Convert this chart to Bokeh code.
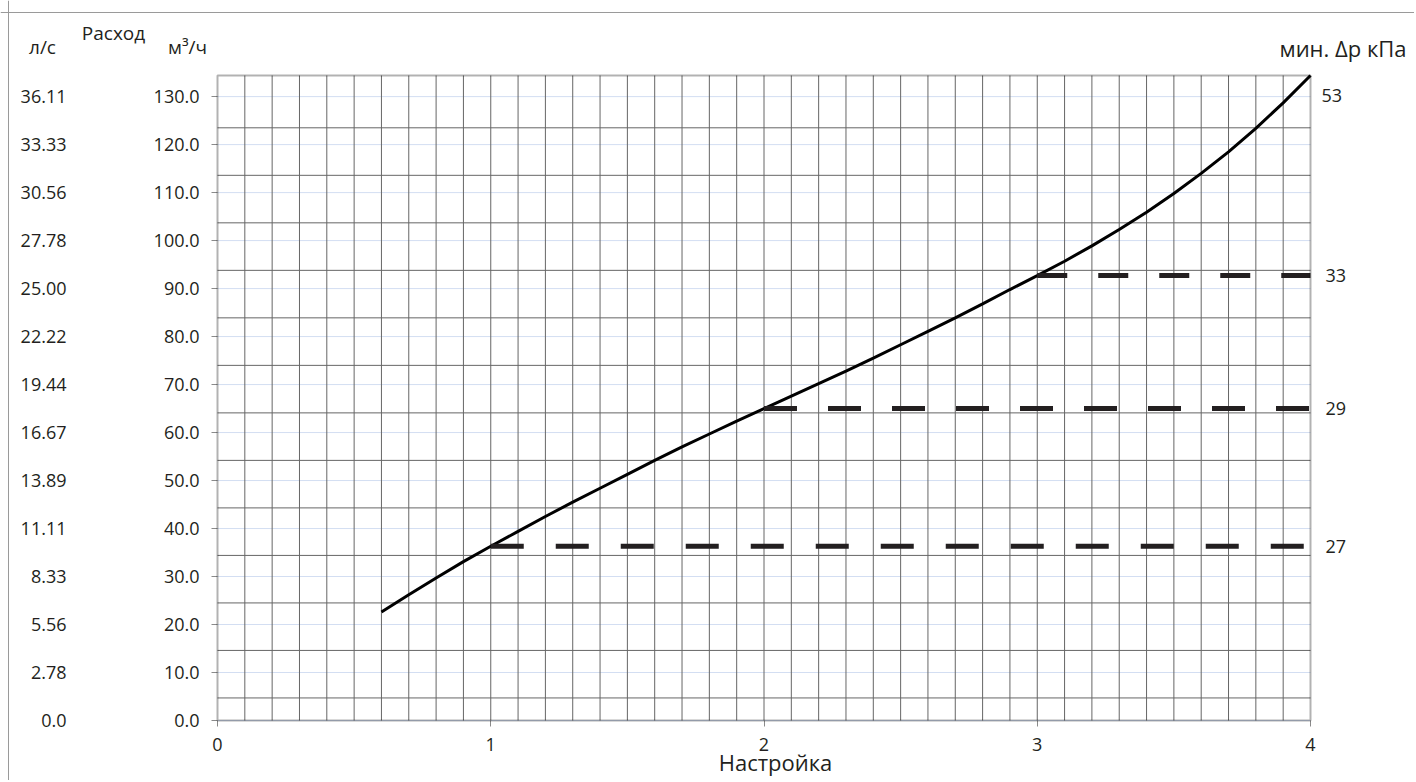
from bokeh.plotting import figure
from bokeh.models import Range1d, LinearAxis, FixedTicker, Label, Span, BoxAnnotation, NumeralTickFormatter
from bokeh.embed import file_html
from bokeh.resources import INLINE

# ---- data ----
setting = [0.6, 0.7, 0.8, 0.9, 1.0, 1.1, 1.2, 1.3, 1.4, 1.5, 1.6, 1.7, 1.8, 1.9, 2.0,
           2.1, 2.2, 2.3, 2.4, 2.5, 2.6, 2.7, 2.8, 2.9, 3.0, 3.1, 3.2, 3.3, 3.4, 3.5,
           3.6, 3.7, 3.8, 3.9, 4.0]
flow_m3h = [22.6, 26.2, 29.7, 33.1, 36.3, 39.4, 42.5, 45.5, 48.4, 51.3, 54.2, 57.0, 59.7, 62.4, 65.0,
            67.6, 70.2, 72.8, 75.5, 78.3, 81.1, 83.9, 86.8, 89.8, 92.7, 95.7, 98.9, 102.3, 105.9, 109.8,
            114.0, 118.5, 123.4, 128.7, 134.4]

dp_start = [1.0, 2.0, 3.0]
dp_level = [36.3, 65.0, 92.7]
dp_text = ["27", "29", "33"]
dp_dash = ["33 32", "33 31", "30 31"]
dp_end_text = "53"

x_ticks = [0, 1, 2, 3, 4]
x_grid = [0.1, 0.2, 0.3, 0.4, 0.5, 0.6, 0.7, 0.8, 0.9, 1.0, 1.1, 1.2, 1.3, 1.4, 1.5, 1.6, 1.7, 1.8, 1.9,
          2.0, 2.1, 2.2, 2.3, 2.4, 2.5, 2.6, 2.7, 2.8, 2.9, 3.0, 3.1, 3.2, 3.3, 3.4, 3.5, 3.6, 3.7, 3.8, 3.9]
y_ticks = [0, 10, 20, 30, 40, 50, 60, 70, 80, 90, 100, 110, 120, 130]
ls_labels = ["0.0", "2.78", "5.56", "8.33", "11.11", "13.89", "16.67", "19.44", "22.22", "25.00",
             "27.78", "30.56", "33.33", "36.11"]
h_grid = [4.7, 14.6, 24.5, 34.4, 44.3, 54.2, 64.1, 74.0, 83.9, 93.8, 103.7, 113.6, 123.5]

X_MAX = 4.0
Y_MAX = 134.4

# ---- layout (pixels) ----
W, H = 1414, 780
FR_L, FR_R, FR_T, FR_B = 217, 1310, 75, 720
XPU = (FR_R - FR_L) / X_MAX
YPU = (FR_B - FR_T) / Y_MAX


def px2x(px):
    return (px - FR_L) / XPU


def px2y(py):
    return (FR_B - py) / YPU


FONT = "Open Sans"
TXT = "#231f20"
FS = "18px"

p = figure(width=W, height=H,
           x_range=Range1d(px2x(0), px2x(W)), y_range=Range1d(px2y(H), px2y(0)),
           output_backend="svg", toolbar_location=None, min_border=0,
           min_border_left=0, min_border_right=0, min_border_top=0, min_border_bottom=0,
           background_fill_color="white", border_fill_color="white")
p.outline_line_color = None
p.xgrid.visible = False
p.ygrid.visible = False

# page border
p.add_layout(Span(location=px2x(8), dimension="height", line_color="#9a9a9a", line_width=1))
p.add_layout(Span(location=px2y(12), dimension="width", line_color="#9a9a9a", line_width=1))

# grid lines (limited to the plot box)
p.segment(x0=[0] * len(y_ticks), x1=[X_MAX] * len(y_ticks), y0=y_ticks, y1=y_ticks,
          line_color="#d3def2", line_width=1)
p.segment(x0=[0] * len(h_grid), x1=[X_MAX] * len(h_grid), y0=h_grid, y1=h_grid,
          line_color="#666666", line_width=1)
p.segment(x0=x_grid, x1=x_grid, y0=[0] * len(x_grid), y1=[Y_MAX] * len(x_grid),
          line_color="#666666", line_width=1)

# plot box
p.add_layout(BoxAnnotation(left=0, right=X_MAX, bottom=0, top=Y_MAX, fill_color=None,
                           line_color="black", line_width=2, level="annotation"))

# x axis
xa = p.xaxis[0]
xa.fixed_location = 0
xa.ticker = FixedTicker(ticks=x_ticks, minor_ticks=[])
xa.axis_line_color = None
xa.major_tick_out = 6
xa.major_tick_in = 0
xa.major_tick_line_color = "#8a8a8a"
xa.major_label_standoff = 11
xa.major_label_text_font = FONT
xa.major_label_text_font_size = FS
xa.major_label_text_color = TXT

# inner y axis (m3/h)
ya = p.yaxis[0]
ya.fixed_location = 0
ya.ticker = FixedTicker(ticks=y_ticks, minor_ticks=[])
ya.formatter = NumeralTickFormatter(format="0.0")
ya.axis_line_color = None
ya.major_tick_out = 6
ya.major_tick_in = 0
ya.major_tick_line_color = "#8a8a8a"
ya.major_label_standoff = 12
ya.major_label_text_font = FONT
ya.major_label_text_font_size = FS
ya.major_label_text_color = TXT

# outer y axis (l/s)
ls_axis = LinearAxis(fixed_location=0, ticker=FixedTicker(ticks=y_ticks, minor_ticks=[]),
                     major_label_overrides={t: s for t, s in zip(y_ticks, ls_labels)})
ls_axis.axis_line_color = None
ls_axis.major_tick_line_color = None
ls_axis.major_tick_out = 0
ls_axis.major_tick_in = 0
ls_axis.major_label_standoff = 151
ls_axis.major_label_text_font = FONT
ls_axis.major_label_text_font_size = FS
ls_axis.major_label_text_color = TXT
p.add_layout(ls_axis, "left")

# curve
p.line(setting, flow_m3h, line_width=3, color="black")

# dashed min dp lines
for xs, lv, dash in zip(dp_start, dp_level, dp_dash):
    p.line([xs, X_MAX], [lv, lv], line_width=5, color=TXT, line_dash=dash, line_cap="butt")

for lv, t in zip(dp_level, dp_text):
    p.add_layout(Label(x=X_MAX, y=lv, text=t, x_offset=15, text_baseline="middle", text_align="left",
                       text_font=FONT, text_font_size=FS, text_color=TXT))
p.add_layout(Label(x=X_MAX, y=flow_m3h[-1], text=dp_end_text, x_offset=11, y_offset=-20,
                   text_baseline="middle", text_align="left",
                   text_font=FONT, text_font_size=FS, text_color=TXT))


# headers
def hdr(px, py, t, align="center", size="19px"):
    p.add_layout(Label(x=px2x(px), y=px2y(py), text=t, text_align=align, text_baseline="alphabetic",
                       text_font=FONT, text_font_size=size, text_color=TXT))


hdr(42, 46, "л/с")
hdr(113, 32, "Расход")
hdr(187, 46, "м³/ч")
hdr(1279, 47, "мин. Δp кПа", align="left", size="22px")
hdr(775, 761, "Настройка", size="22px")

open("out.html", "w").write(file_html(p, INLINE))
